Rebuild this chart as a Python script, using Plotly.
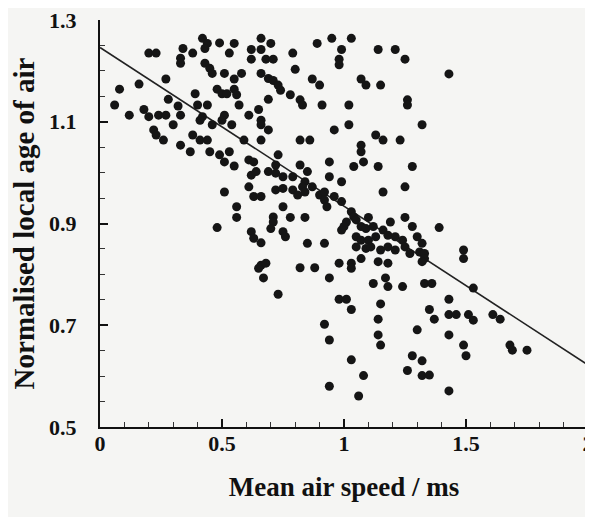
import plotly.graph_objects as go

# Mean air speed (m/s)
speed = [
    0.42, 0.44, 0.49, 0.55, 0.66, 0.62, 0.66, 0.53, 0.62, 0.43, 0.20, 0.23, 0.34, 0.38, 0.33, 0.33,
    0.43, 0.45, 0.46, 0.51, 0.55, 0.58, 0.66, 0.27, 0.16, 0.08, 0.48, 0.50, 0.52, 0.55, 0.56, 0.39,
    0.28, 0.32, 0.06, 0.40, 0.44, 0.57, 0.18, 0.20, 0.24, 0.27, 0.33, 0.12, 0.42, 0.51, 0.50, 0.65,
    0.61, 0.30, 0.46, 0.41, 0.22, 0.23, 0.26, 0.38, 0.41, 0.44, 0.59, 0.66, 0.33, 0.54,
    0.70, 0.68, 0.71, 0.89, 0.95, 1.03, 0.99, 0.79, 0.98, 0.98, 1.14, 1.21, 1.25, 0.80, 0.69, 0.71,
    0.73, 0.74, 0.78, 0.82, 0.83, 0.69, 0.87, 0.90, 1.07, 1.09, 1.15, 0.91, 1.02, 1.26, 1.26, 0.66,
    0.66, 0.69, 0.96, 1.02, 1.32, 1.13, 1.16, 1.23, 0.82, 0.86, 1.07, 1.43,
    0.37, 0.45, 0.49, 0.51, 0.53, 0.55, 0.61, 0.63, 0.62, 0.64, 0.61, 0.63, 0.66, 0.51, 0.56, 0.56,
    0.48, 0.62, 0.63, 0.66, 0.66, 0.65, 0.67,
    1.07, 0.73, 0.94, 1.04, 1.08, 1.14, 1.28, 0.72, 0.69, 0.72, 0.75, 0.82, 0.85, 0.79, 0.84, 0.83,
    0.94, 0.99, 1.16, 1.25, 0.72, 0.75, 0.79, 0.81, 0.84, 0.87, 0.90, 0.92, 0.92, 0.93, 0.96, 0.99,
    0.75, 0.71, 0.71, 0.70, 0.78, 0.84, 0.75, 0.76, 1.03, 1.04, 1.05, 1.01, 1.00, 0.99, 1.10, 1.07,
    1.09, 1.12, 1.16, 1.19, 1.25, 1.28, 1.05, 1.07, 1.10, 1.13, 1.18, 1.21, 1.24, 1.30, 1.32, 1.05,
    1.09, 1.11, 1.15, 1.18, 1.21, 1.25, 1.27, 1.31, 0.85, 0.92, 1.07, 1.14, 1.18, 0.68, 0.82, 0.88,
    0.98, 1.03, 1.03, 0.94, 1.12, 1.17, 1.18, 1.24,
    1.39, 1.49, 1.49, 1.33, 1.33, 1.32, 1.33, 1.36, 1.53,
    0.73, 0.98, 1.01, 1.03, 1.15, 0.92, 1.14, 1.30, 0.94, 1.14, 1.15, 1.03, 1.28, 1.32, 1.26, 1.32,
    1.08, 0.94, 1.06,
    1.43, 1.35, 1.37, 1.43, 1.46, 1.51, 1.53, 1.61, 1.64, 1.43, 1.49, 1.50, 1.68, 1.69, 1.75, 1.35,
    1.43,
]

# Normalised local age of air
age = [
    1.264, 1.254, 1.255, 1.254, 1.264, 1.242, 1.242, 1.235, 1.223, 1.244, 1.235, 1.235, 1.244, 1.235, 1.225, 1.215,
    1.215, 1.205, 1.195, 1.195, 1.184, 1.195, 1.195, 1.184, 1.174, 1.164, 1.164, 1.155, 1.155, 1.164, 1.153, 1.155,
    1.144, 1.131, 1.133, 1.133, 1.133, 1.133, 1.124, 1.110, 1.113, 1.113, 1.113, 1.113, 1.110, 1.113, 1.103, 1.124,
    1.113, 1.094, 1.094, 1.103, 1.084, 1.074, 1.064, 1.074, 1.064, 1.064, 1.064, 1.064, 1.054, 1.094,
    1.254, 1.223, 1.223, 1.254, 1.264, 1.264, 1.242, 1.235, 1.223, 1.212, 1.242, 1.242, 1.223, 1.203, 1.185, 1.181,
    1.172, 1.162, 1.153, 1.143, 1.133, 1.144, 1.184, 1.172, 1.184, 1.172, 1.172, 1.133, 1.133, 1.143, 1.133, 1.103,
    1.094, 1.084, 1.084, 1.094, 1.094, 1.074, 1.064, 1.064, 1.064, 1.064, 1.054, 1.194,
    1.041, 1.041, 1.035, 1.021, 1.041, 1.013, 1.025, 1.021, 0.995, 1.002, 0.972, 0.953, 0.953, 0.962, 0.933, 0.912,
    0.892, 0.884, 0.871, 0.862, 0.818, 0.812, 0.793,
    1.041, 1.035, 1.021, 1.012, 1.021, 1.012, 1.012, 1.015, 1.002, 0.999, 0.992, 1.015, 1.002, 0.992, 0.982, 0.972,
    0.992, 0.982, 0.962, 0.972, 0.966, 0.969, 0.966, 0.956, 0.962, 0.972, 0.956, 0.962, 0.946, 0.933, 0.953, 0.943,
    0.933, 0.913, 0.903, 0.890, 0.912, 0.912, 0.884, 0.874, 0.923, 0.913, 0.907, 0.903, 0.894, 0.887, 0.912, 0.894,
    0.890, 0.894, 0.887, 0.903, 0.912, 0.894, 0.874, 0.867, 0.867, 0.874, 0.877, 0.874, 0.867, 0.874, 0.861, 0.854,
    0.851, 0.854, 0.848, 0.854, 0.848, 0.854, 0.841, 0.844, 0.861, 0.861, 0.831, 0.825, 0.822, 0.822, 0.813, 0.813,
    0.822, 0.822, 0.812, 0.793, 0.782, 0.793, 0.776, 0.776,
    0.892, 0.848, 0.831, 0.841, 0.831, 0.825, 0.782, 0.782, 0.773,
    0.761, 0.751, 0.751, 0.731, 0.742, 0.702, 0.712, 0.691, 0.671, 0.681, 0.661, 0.632, 0.640, 0.630, 0.611, 0.601,
    0.601, 0.580, 0.561,
    0.751, 0.731, 0.712, 0.721, 0.721, 0.721, 0.710, 0.721, 0.712, 0.681, 0.661, 0.640, 0.661, 0.651, 0.651, 0.602,
    0.571,
]

# Fitted regression line end points
fit_speed = [0.0, 2.0]
fit_age = [1.246, 0.622]

x_tickvals = [0, 0.5, 1, 1.5, 2]
x_ticktext = ["0", "0.5", "1", "1.5", "2"]
y_tickvals = [0.5, 0.7, 0.9, 1.1, 1.3]
y_ticktext = ["0.5", "0.7", "0.9", "1.1", "1.3"]

serif = "Liberation Serif, Times New Roman, serif"
bg = "#f5f5f3"

fig = go.Figure()
fig.add_trace(go.Scatter(
    x=fit_speed, y=fit_age, mode="lines",
    line=dict(color="#222222", width=1.6), hoverinfo="skip", showlegend=False,
))
fig.add_trace(go.Scatter(
    x=speed, y=age, mode="markers",
    marker=dict(color="#151515", size=9, line=dict(width=0)),
    showlegend=False,
))

fig.update_layout(
    width=593, height=517,
    margin=dict(l=92, r=13, t=12, b=98, autoexpand=False),
    paper_bgcolor=bg, plot_bgcolor=bg,
    font=dict(family=serif, color="#111111"),
    xaxis=dict(
        range=[0, 2], showgrid=False, zeroline=False, automargin=False,
        showline=True, linecolor="#111111", linewidth=2,
        tickmode="array", tickvals=x_tickvals, ticktext=x_ticktext,
        ticks="inside", ticklen=8, tickwidth=1.5, tickcolor="#111111",
        minor=dict(ticks="inside", ticklen=5, tickwidth=1, tickcolor="#333333", dtick=0.1, tick0=0, showgrid=False),
        tickfont=dict(family=serif, size=22, weight="bold"),
        ticklabeloverflow="allow",
        ticklabelstandoff=-4,
        title=dict(text="Mean air speed / ms", font=dict(family=serif, size=27, weight="bold"), standoff=22),
    ),
    yaxis=dict(
        range=[0.5, 1.3], showgrid=False, zeroline=False, automargin=False,
        showline=True, linecolor="#111111", linewidth=2,
        tickmode="array", tickvals=y_tickvals, ticktext=y_ticktext,
        ticks="inside", ticklen=8, tickwidth=1.5, tickcolor="#111111",
        minor=dict(ticks="inside", ticklen=5, tickwidth=1, tickcolor="#333333", dtick=0.05, tick0=0.5, showgrid=False),
        tickfont=dict(family=serif, size=22, weight="bold"),
        ticklabeloverflow="allow",
        ticklabelstandoff=17,
        title=dict(text="Normalised local age of air", font=dict(family=serif, size=29, weight="bold"), standoff=10),
    ),
)

fig.write_html("out.html")
